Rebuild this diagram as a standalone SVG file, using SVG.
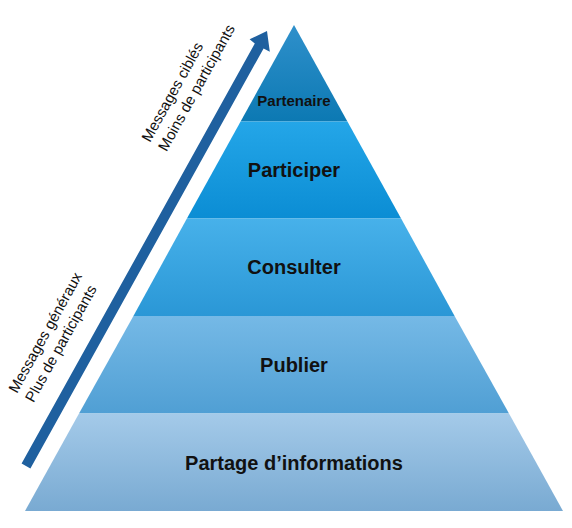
<svg xmlns="http://www.w3.org/2000/svg" width="572" height="528" viewBox="0 0 572 528">
<style>
.lbl{font-family:"Liberation Sans",Arial,sans-serif;font-weight:bold;font-size:20px;fill:#111;text-anchor:middle;dominant-baseline:central}
.side{font-family:"Liberation Sans",Arial,sans-serif;font-size:15px;fill:#111}
</style>
<defs>
<linearGradient id="g1" x1="0" y1="0" x2="0" y2="1"><stop offset="0" stop-color="#2f90cb"/><stop offset="1" stop-color="#0c79b3"/></linearGradient>
<linearGradient id="g2" x1="0" y1="0" x2="0" y2="1"><stop offset="0" stop-color="#24a6e8"/><stop offset="1" stop-color="#0b8dd4"/></linearGradient>
<linearGradient id="g3" x1="0" y1="0" x2="0" y2="1"><stop offset="0" stop-color="#47b1ea"/><stop offset="1" stop-color="#2a97d6"/></linearGradient>
<linearGradient id="g4" x1="0" y1="0" x2="0" y2="1"><stop offset="0" stop-color="#75b9e6"/><stop offset="1" stop-color="#509fd4"/></linearGradient>
<linearGradient id="g5" x1="0" y1="0" x2="0" y2="1"><stop offset="0" stop-color="#a4cae9"/><stop offset="1" stop-color="#79aad2"/></linearGradient>
</defs>
<g id="level-partenaire">
<polygon points="294,25 347.4,121.5 240.6,121.5" fill="url(#g1)"/>
<text class="lbl" x="294" y="100" style="font-size:15px">Partenaire</text>
</g>
<g id="level-participer">
<polygon points="240.6,121.5 347.4,121.5 401.1,218.5 186.9,218.5" fill="url(#g2)"/>
<text class="lbl" x="294" y="170">Participer</text>
</g>
<g id="level-consulter">
<polygon points="186.9,218.5 401.1,218.5 454.6,316 133.4,316" fill="url(#g3)"/>
<text class="lbl" x="294" y="267">Consulter</text>
</g>
<g id="level-publier">
<polygon points="133.4,316 454.6,316 509,413.5 79,413.5" fill="url(#g4)"/>
<text class="lbl" x="294" y="365">Publier</text>
</g>
<g id="level-partage">
<polygon points="79,413.5 509,413.5 563,511 25,511" fill="url(#g5)"/>
<text class="lbl" x="294" y="463">Partage d’informations</text>
</g>
<g id="connectors">
<polygon points="21.6,463.6 30.4,468.4 263.6,48.4 269.8,51.8 267,31 249.6,39.2 254.8,43.6" fill="#1f609f"/>
</g>
<g id="label-top">
<text class="side" transform="translate(150,143) rotate(-61)"><tspan x="0" y="0">Messages ciblés</tspan><tspan x="0" y="19">Moins de participants</tspan></text>
</g>
<g id="label-bottom">
<text class="side" transform="translate(17,394) rotate(-61)"><tspan x="0" y="0">Messages généraux</tspan><tspan x="0" y="19">Plus de participants</tspan></text>
</g>
</svg>
